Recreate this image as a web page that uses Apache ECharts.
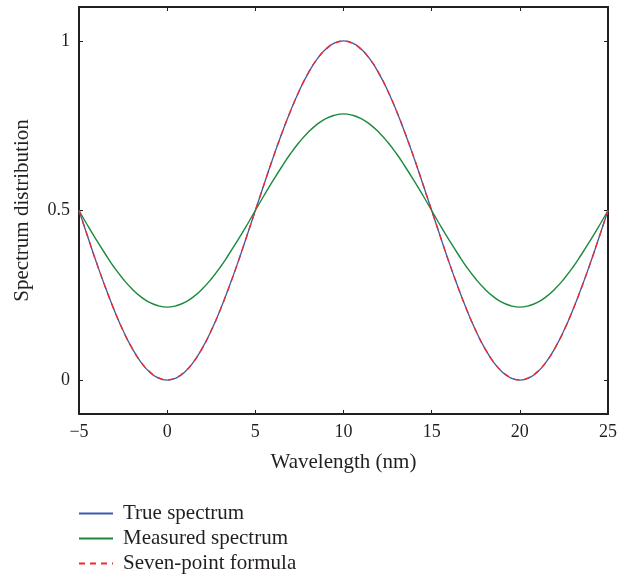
<!DOCTYPE html>
<html>
<head>
<meta charset="utf-8">
<script src="https://cdn.jsdelivr.net/npm/echarts@6/dist/echarts.min.js"></script>
<style>
  html, body { margin: 0; padding: 0; background: #fff; }
  #chart { width: 634px; height: 576px; }
</style>
</head>
<body>
<div id="chart"></div>
<script>
// wavelength samples (nm), step 0.5
const wavelength = [-5, -4.5, -4, -3.5, -3, -2.5, -2, -1.5, -1, -0.5,
  0, 0.5, 1, 1.5, 2, 2.5, 3, 3.5, 4, 4.5,
  5, 5.5, 6, 6.5, 7, 7.5, 8, 8.5, 9, 9.5,
  10, 10.5, 11, 11.5, 12, 12.5, 13, 13.5, 14, 14.5,
  15, 15.5, 16, 16.5, 17, 17.5, 18, 18.5, 19, 19.5,
  20, 20.5, 21, 21.5, 22, 22.5, 23, 23.5, 24, 24.5, 25];

const trueSpectrum = [0.5, 0.422, 0.345, 0.273, 0.206, 0.146, 0.095, 0.054, 0.024, 0.006,
  0, 0.006, 0.024, 0.054, 0.095, 0.146, 0.206, 0.273, 0.345, 0.422,
  0.5, 0.578, 0.655, 0.727, 0.794, 0.854, 0.905, 0.946, 0.976, 0.994,
  1, 0.994, 0.976, 0.946, 0.905, 0.854, 0.794, 0.727, 0.655, 0.578,
  0.5, 0.422, 0.345, 0.273, 0.206, 0.146, 0.095, 0.054, 0.024, 0.006,
  0, 0.006, 0.024, 0.054, 0.095, 0.146, 0.206, 0.273, 0.345, 0.422, 0.5];
const measuredSpectrum = [0.5, 0.455, 0.412, 0.371, 0.332, 0.298, 0.269, 0.246, 0.229, 0.219,
  0.215, 0.219, 0.229, 0.246, 0.269, 0.298, 0.332, 0.371, 0.412, 0.455,
  0.5, 0.545, 0.588, 0.629, 0.668, 0.702, 0.731, 0.754, 0.771, 0.781,
  0.785, 0.781, 0.771, 0.754, 0.731, 0.702, 0.668, 0.629, 0.588, 0.545,
  0.5, 0.455, 0.412, 0.371, 0.332, 0.298, 0.269, 0.246, 0.229, 0.219,
  0.215, 0.219, 0.229, 0.246, 0.269, 0.298, 0.332, 0.371, 0.412, 0.455, 0.5];
const sevenPoint = [0.5, 0.422, 0.345, 0.273, 0.206, 0.146, 0.095, 0.054, 0.025, 0.007,
  0.001, 0.007, 0.025, 0.054, 0.095, 0.146, 0.206, 0.273, 0.345, 0.422,
  0.5, 0.578, 0.655, 0.727, 0.794, 0.854, 0.905, 0.946, 0.975, 0.993,
  0.999, 0.993, 0.975, 0.946, 0.905, 0.854, 0.794, 0.727, 0.655, 0.578,
  0.5, 0.422, 0.345, 0.273, 0.206, 0.146, 0.095, 0.054, 0.025, 0.007,
  0.001, 0.007, 0.025, 0.054, 0.095, 0.146, 0.206, 0.273, 0.345, 0.422, 0.5];

const yTicks = [0, 0.5, 1];

const ink = '#231f20';
const font = '"Liberation Serif", "DejaVu Serif", serif';

const pairs = ys => wavelength.map((x, i) => [x, ys[i]]);

const chart = echarts.init(document.getElementById('chart'));

const frameX = (pos, showLabel) => ({
  type: 'value', position: pos, min: -5, max: 25, interval: 5,
  axisLine: { show: true, onZero: false, lineStyle: { color: ink, width: 2 } },
  axisTick: { show: true, inside: true, length: 4, lineStyle: { color: ink, width: 1 } },
  axisLabel: {
    show: showLabel, margin: 9, color: ink, fontFamily: font, fontSize: 18,
    formatter: v => String(v).replace('-', '\u2212')
  },
  splitLine: { show: false }
});

const frameY = (pos, showLabel) => ({
  type: 'value', position: pos, min: -0.1, max: 1.1,
  axisLine: { show: true, onZero: false, lineStyle: { color: ink, width: 2 } },
  axisTick: { show: true, inside: true, length: 4, customValues: yTicks, lineStyle: { color: ink, width: 1 } },
  axisLabel: { show: showLabel, customValues: yTicks, margin: 9, color: ink, fontFamily: font, fontSize: 18 },
  splitLine: { show: false }
});

let option = {
  animation: false,
  grid: { left: 79, right: 26, top: 7, bottom: 162, containLabel: false },
  xAxis: [
    Object.assign(frameX('bottom', true), {
      name: 'Wavelength (nm)', nameLocation: 'middle', nameGap: 38,
      nameTextStyle: { color: ink, fontFamily: font, fontSize: 21 }
    }),
    frameX('top', false)
  ],
  yAxis: [
    Object.assign(frameY('left', true), {
      name: 'Spectrum distribution', nameLocation: 'middle', nameGap: 46,
      nameTextStyle: { color: ink, fontFamily: font, fontSize: 21 }
    }),
    frameY('right', false)
  ],
  legend: {
    orient: 'vertical', left: 78, top: 503, height: 90, padding: 0,
    itemWidth: 34, itemHeight: 14, itemGap: 4,
    itemStyle: { opacity: 0 },
    textStyle: { color: ink, fontFamily: font, fontSize: 21, padding: [0, 0, 0, 5] },
    data: ['True spectrum', 'Measured spectrum', 'Seven-point formula']
  },
  series: [
    {
      name: 'True spectrum', type: 'line', smooth: true, showSymbol: false, symbol: 'none',
      lineStyle: { color: '#3d5ba9', width: 1.3 }, itemStyle: { color: '#3d5ba9' },
      data: pairs(trueSpectrum)
    },
    {
      name: 'Measured spectrum', type: 'line', smooth: true, showSymbol: false, symbol: 'none',
      lineStyle: { color: '#1a8a3c', width: 1.4 }, itemStyle: { color: '#1a8a3c' },
      data: pairs(measuredSpectrum)
    },
    {
      name: 'Seven-point formula', type: 'line', smooth: true, showSymbol: false, symbol: 'none',
      lineStyle: { color: '#ee2b2e', width: 1.4, type: [6, 5] }, itemStyle: { color: '#ee2b2e' },
      data: pairs(sevenPoint)
    }
  ]
};

chart.setOption(option);
</script>
</body>
</html>
